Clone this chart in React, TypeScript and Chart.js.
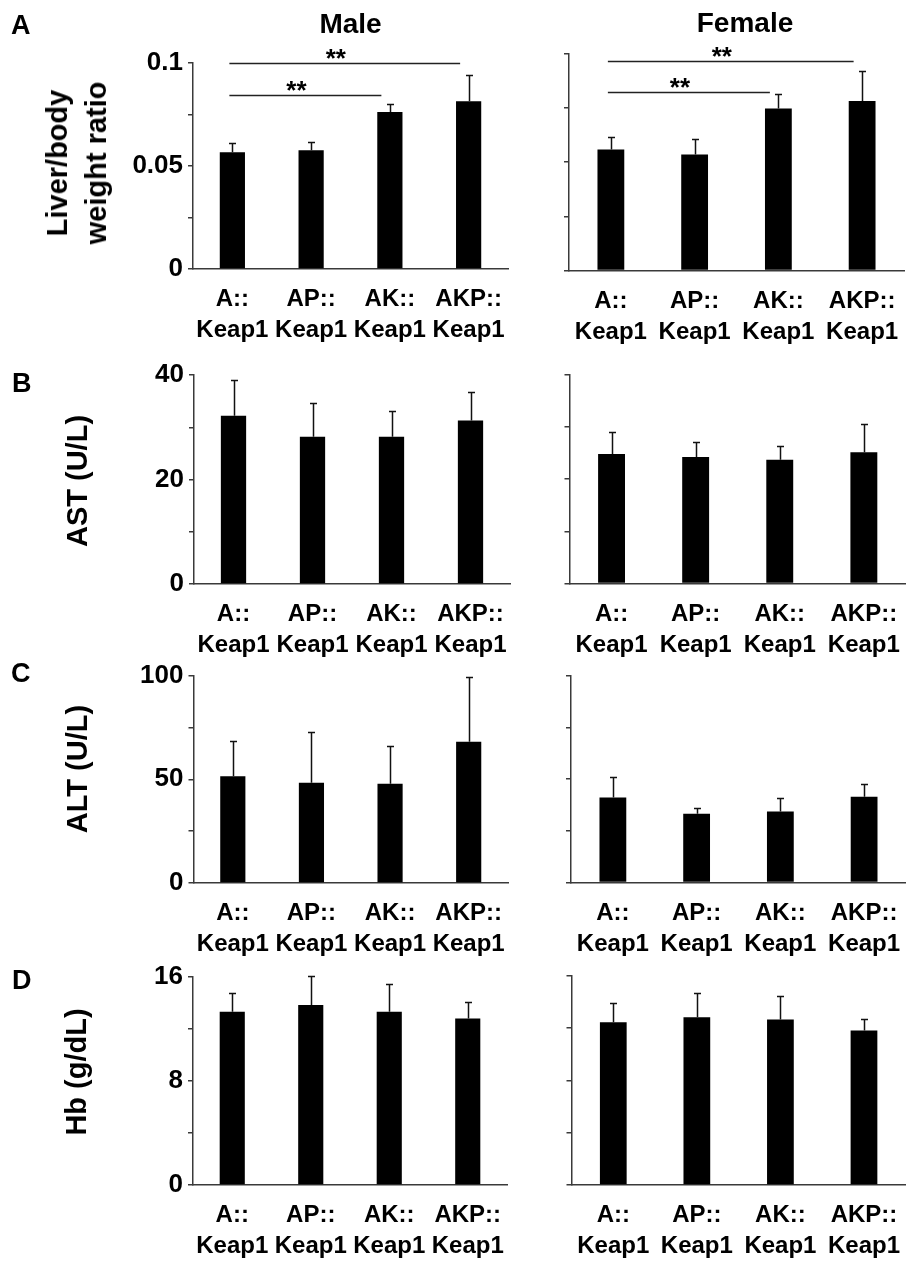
import React, { useEffect, useRef } from "react";
import { Chart, registerables } from "chart.js";

Chart.register(...registerables);

const FONT = '"Liberation Sans", Arial, Helvetica, sans-serif';

// ---------- data ----------
const categories = [
  ["A::", "Keap1"],
  ["AP::", "Keap1"],
  ["AK::", "Keap1"],
  ["AKP::", "Keap1"],
];

const maleLiver = [0.0567, 0.0577, 0.0762, 0.0814];
const maleLiverErr = [0.0043, 0.004, 0.0038, 0.0128];
const femaleLiver = [0.0558, 0.0535, 0.0747, 0.0781];
const femaleLiverErr = [0.0058, 0.0071, 0.0066, 0.0139];

const maleAST = [32.2, 28.2, 28.2, 31.3];
const maleASTErr = [6.8, 6.4, 4.9, 5.4];
const femaleAST = [24.8, 24.2, 23.7, 25.1];
const femaleASTErr = [4.2, 2.8, 2.6, 5.4];

const maleALT = [51.5, 48.3, 47.9, 68.1];
const maleALTErr = [17.2, 24.4, 18.0, 31.4];
const femaleALT = [41.1, 33.2, 34.3, 41.5];
const femaleALTErr = [9.7, 3.0, 6.3, 6.1];

const maleHb = [13.33, 13.84, 13.33, 12.81];
const maleHbErr = [1.44, 2.21, 2.15, 1.23];
const femaleHb = [12.44, 12.82, 12.64, 11.81];
const femaleHbErr = [1.49, 1.82, 1.77, 0.85];

// y axis ranges, steps and labelled tick values
const liverMax = 0.1;
const liverStep = 0.025;
const liverTickLabels = [0, 0.05, 0.1];
const astMax = 40;
const astStep = 10;
const astTickLabels = [0, 20, 40];
const altMax = 100;
const altStep = 25;
const altTickLabels = [0, 50, 100];
const hbMax = 16;
const hbStep = 4;
const hbTickLabels = [0, 8, 16];

// significance brackets (category index from -> to, height in data units)
const sigFrom = [0, 0];
const sigTo = [2, 3];
const sigText = ["**", "**"];
const maleSigY = [0.0845, 0.1];
const femaleSigY = [0.0823, 0.0965];

const yTitles = [["Liver/body", "weight ratio"], ["AST (U/L)"], ["ALT (U/L)"], ["Hb (g/dL)"]];
const panelLetters = ["A", "B", "C", "D"];
const columnTitles = ["Male", "Female"];

// ---------- layout ----------
const rows = [
  { top: 0, h: 355 },
  { top: 345, h: 325 },
  { top: 655, h: 315 },
  { top: 955, h: 306 },
];
const cols = [
  { left: 0, w: 540 },
  { left: 540, w: 376 },
];
const X_AXIS_H = 76;
const AXIS_COLOR = "#3a3a3a";

type PanelDef = {
  id: string;
  row: number;
  col: number;
  values: number[];
  errors: number[];
  max: number;
  step: number;
  tickLabels: number[];
  showLabels: boolean;
  plot: { L: number; R: number; T: number; B: number };
  sigY?: number[];
};

const panels: PanelDef[] = [
  { id: "mA", row: 0, col: 0, values: maleLiver, errors: maleLiverErr, max: liverMax, step: liverStep, tickLabels: liverTickLabels, showLabels: true, plot: { L: 193, R: 508, T: 63, B: 269 }, sigY: maleSigY },
  { id: "fA", row: 0, col: 1, values: femaleLiver, errors: femaleLiverErr, max: liverMax, step: liverStep, tickLabels: liverTickLabels, showLabels: false, plot: { L: 569, R: 904, T: 53.5, B: 270.5 }, sigY: femaleSigY },
  { id: "mB", row: 1, col: 0, values: maleAST, errors: maleASTErr, max: astMax, step: astStep, tickLabels: astTickLabels, showLabels: true, plot: { L: 194, R: 510, T: 375, B: 584 } },
  { id: "fB", row: 1, col: 1, values: femaleAST, errors: femaleASTErr, max: astMax, step: astStep, tickLabels: astTickLabels, showLabels: false, plot: { L: 569.5, R: 907, T: 374.5, B: 583.5 } },
  { id: "mC", row: 2, col: 0, values: maleALT, errors: maleALTErr, max: altMax, step: altStep, tickLabels: altTickLabels, showLabels: true, plot: { L: 193.5, R: 508, T: 672.5, B: 883 } },
  { id: "fC", row: 2, col: 1, values: femaleALT, errors: femaleALTErr, max: altMax, step: altStep, tickLabels: altTickLabels, showLabels: false, plot: { L: 571, R: 909, T: 671.5, B: 882.5 } },
  { id: "mD", row: 3, col: 0, values: maleHb, errors: maleHbErr, max: hbMax, step: hbStep, tickLabels: hbTickLabels, showLabels: true, plot: { L: 193, R: 507, T: 977, B: 1185 } },
  { id: "fD", row: 3, col: 1, values: femaleHb, errors: femaleHbErr, max: hbMax, step: hbStep, tickLabels: hbTickLabels, showLabels: false, plot: { L: 571.5, R: 908, T: 974, B: 1185 } },
];

function makeOverlay(p: PanelDef) {
  return {
    id: "overlay_" + p.id,
    afterDatasetsDraw(chart: any) {
      const { ctx } = chart;
      const x = chart.scales.x;
      const y = chart.scales.y;
      ctx.save();
      ctx.strokeStyle = "#111";
      ctx.lineWidth = 1.5;
      p.values.forEach((v, i) => {
        const px = Math.round(x.getPixelForValue(i)) + 0.5;
        const y0 = y.getPixelForValue(v);
        const y1 = Math.round(y.getPixelForValue(v + p.errors[i])) + 0.5;
        ctx.beginPath();
        ctx.moveTo(px, y0);
        ctx.lineTo(px, y1);
        ctx.moveTo(px - 3.5, y1);
        ctx.lineTo(px + 3.5, y1);
        ctx.stroke();
      });
      if (p.sigY) {
        ctx.strokeStyle = "#222";
        ctx.lineWidth = 1.5;
        ctx.fillStyle = "#000";
        ctx.font = `bold 26px ${FONT}`;
        ctx.textAlign = "center";
        ctx.textBaseline = "alphabetic";
        p.sigY.forEach((sy, k) => {
          const x0 = x.getPixelForValue(sigFrom[k]) - 3;
          const x1 = x.getPixelForValue(sigTo[k]) - 8.5;
          const ly = Math.round(y.getPixelForValue(sy)) + 0.5;
          ctx.beginPath();
          ctx.moveTo(x0, ly);
          ctx.lineTo(x1, ly);
          ctx.stroke();
          ctx.fillText(sigText[k], (x0 + x1) / 2 - 9, ly + 3);
        });
      }
      ctx.restore();
    },
  };
}

function Panel({ p }: { p: PanelDef }) {
  const ref = useRef<HTMLCanvasElement>(null);
  const row = rows[p.row];
  const col = cols[p.col];
  useEffect(() => {
    if (!ref.current) return;
    const yW = p.plot.L - col.left;
    const padRight = col.left + col.w - p.plot.R;
    const padTop = p.plot.T - row.top;
    const padBottom = Math.max(0, row.top + row.h - p.plot.B - X_AXIS_H);
    const chart = new Chart(ref.current, {
      type: "bar",
      data: {
        labels: categories,
        datasets: [
          {
            data: p.values,
            backgroundColor: "#000",
            borderColor: "#000",
            borderWidth: 0,
            barPercentage: 0.32,
            categoryPercentage: 1,
          },
        ],
      },
      options: {
        animation: false,
        responsive: false,
        maintainAspectRatio: false,
        devicePixelRatio: 1,
        layout: { padding: { left: 0, right: padRight, top: padTop, bottom: padBottom } },
        plugins: { legend: { display: false }, tooltip: { enabled: false }, title: { display: false } },
        scales: {
          x: {
            grid: { display: false, drawTicks: false },
            border: { display: true, color: AXIS_COLOR, width: 1.5 },
            ticks: {
              color: "#000",
              padding: 15,
              maxRotation: 0,
              autoSkip: false,
              font: { family: FONT, size: 24, weight: "bold", lineHeight: 31 / 24 },
            },
            afterFit: (s: any) => {
              s.height = X_AXIS_H;
            },
          },
          y: {
            min: 0,
            max: p.max,
            grid: { display: true, drawOnChartArea: false, drawTicks: true, tickLength: 5, color: AXIS_COLOR, lineWidth: 1.5 },
            border: { display: true, color: AXIS_COLOR, width: 1.5 },
            ticks: {
              stepSize: p.step,
              autoSkip: false,
              color: "#000",
              padding: 5,
              font: { family: FONT, size: 26, weight: "bold" },
              callback: (value: any) => {
                if (!p.showLabels) return "";
                const v = Number(value);
                return p.tickLabels.some((t) => Math.abs(t - v) < 1e-9) ? String(v) : "";
              },
            },
            afterFit: (s: any) => {
              s.width = yW;
            },
          },
        },
      },
      plugins: [makeOverlay(p)],
    } as any);
    return () => chart.destroy();
  }, []);
  return (
    <canvas
      ref={ref}
      width={col.w}
      height={row.h}
      style={{ position: "absolute", left: col.left, top: row.top, width: col.w, height: row.h }}
    />
  );
}

const yTitlePos = [
  { cx: 76.5, cy: 163 },
  { cx: 77, cy: 481 },
  { cx: 77, cy: 769 },
  { cx: 76, cy: 1072 },
];
const letterPos = [
  { left: 11, top: 12 },
  { left: 12, top: 370 },
  { left: 11, top: 660 },
  { left: 12, top: 967 },
];
const colTitlePos = [
  { cx: 350.5, top: 10 },
  { cx: 745, top: 9 },
];

export default function App() {
  return (
    <div
      style={{
        position: "absolute",
        left: 0,
        top: 0,
        width: 916,
        height: 1261,
        background: "#fff",
        fontFamily: FONT,
        color: "#000",
        overflow: "hidden",
      }}
    >
      {panels.map((p) => (
        <Panel key={p.id} p={p} />
      ))}
      {panelLetters.map((t, i) => (
        <div
          key={t}
          style={{
            position: "absolute",
            left: letterPos[i].left,
            top: letterPos[i].top,
            fontSize: 27,
            lineHeight: "27px",
            fontWeight: "bold",
          }}
        >
          {t}
        </div>
      ))}
      {columnTitles.map((t, i) => (
        <div
          key={t}
          style={{
            position: "absolute",
            left: colTitlePos[i].cx,
            top: colTitlePos[i].top,
            transform: "translateX(-50%)",
            fontSize: 28,
            lineHeight: "28px",
            fontWeight: "bold",
            whiteSpace: "nowrap",
          }}
        >
          {t}
        </div>
      ))}
      {yTitles.map((lines, i) => (
        <div
          key={i}
          style={{
            position: "absolute",
            left: yTitlePos[i].cx,
            top: yTitlePos[i].cy,
            transform: "translate(-50%, -50%) rotate(-90deg)",
            fontSize: 29,
            lineHeight: "39px",
            fontWeight: "bold",
            whiteSpace: "nowrap",
            textAlign: "center",
          }}
        >
          {lines.map((l, k) => (
            <div key={k}>{l}</div>
          ))}
        </div>
      ))}
    </div>
  );
}
